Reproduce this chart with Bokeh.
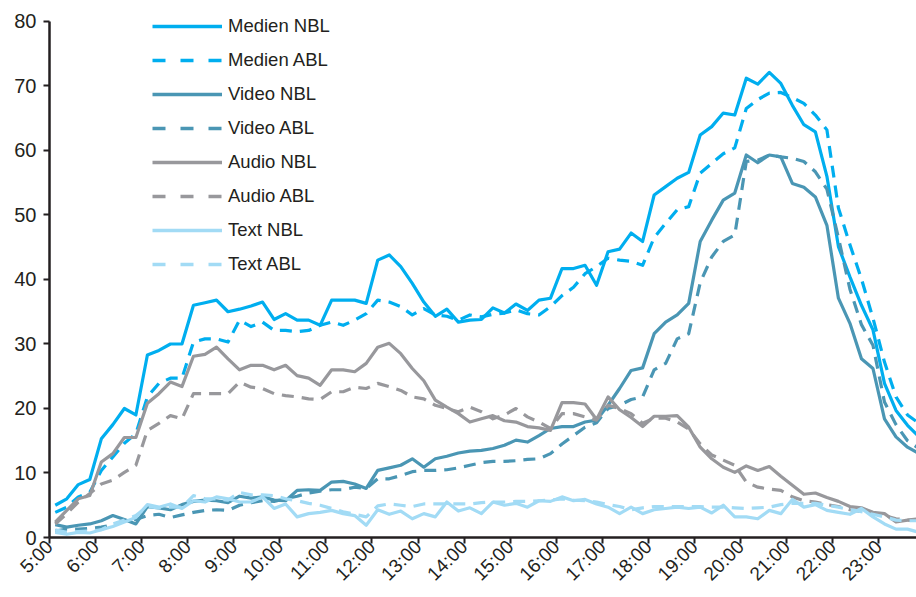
from math import pi
from bokeh.plotting import figure
from bokeh.models import FixedTicker, Legend, LegendItem, Range1d
from bokeh.embed import file_html
from bokeh.resources import INLINE

# ---------------- data ----------------
hours = list(range(5, 24))
hour_labels = {h: f"{h}:00" for h in hours}
# quarter-hour slots, plotted at the middle of each 15-minute interval (5:00-5:15 ... 23:45-24:00)
slot_starts = [f"{5 + q // 4}:{(q % 4) * 15:02d}" for q in range(76)]
slot_x = [int(s.split(":")[0]) + int(s.split(":")[1]) / 60 + 0.125 for s in slot_starts]

medien_nbl = [5.0, 6.0, 8.2, 9.0, 15.3, 17.5, 20.0, 19.0, 28.3, 29.0, 30.0, 30.0,
              36.0, 36.4, 36.8, 35.0, 35.4, 35.9, 36.5, 33.8, 34.7, 33.7, 33.7, 32.9,
              36.8, 36.8, 36.8, 36.3, 43.0, 43.8, 42.0, 39.4, 36.5, 34.3, 35.4, 33.4,
              33.7, 33.8, 35.6, 34.8, 36.2, 35.2, 36.8, 37.1, 41.7, 41.7, 42.2, 39.1,
              44.3, 44.7, 47.2, 45.9, 53.1, 54.4, 55.7, 56.6, 62.4, 63.7, 65.8, 65.5,
              71.2, 70.3, 72.1, 70.4, 67.0, 64.0, 62.9, 56.0, 45.1, 40.4, 36.0, 32.2,
              23.9, 19.7, 17.4, 15.6]
medien_abl = [3.9, 4.7, 6.3, 7.0, 10.4, 12.5, 14.6, 16.1, 21.8, 23.9, 24.7, 24.7,
              30.3, 30.8, 30.8, 30.3, 33.7, 32.7, 33.4, 32.1, 32.1, 31.9, 32.1, 32.9,
              33.4, 32.9, 33.7, 34.7, 36.8, 36.5, 35.8, 34.5, 35.5, 34.5, 34.3, 33.7,
              34.5, 34.2, 34.6, 34.8, 35.3, 34.7, 34.5, 35.8, 37.5, 38.8, 40.9, 42.0,
              43.3, 43.0, 42.8, 42.2, 46.5, 48.7, 50.8, 51.3, 56.5, 58.0, 59.5, 60.4,
              66.5, 67.9, 68.9, 69.0, 68.2, 67.3, 65.5, 63.2, 51.1, 45.4, 40.1, 34.0,
              27.2, 21.8, 19.0, 17.7]
video_nbl = [2.0, 1.6, 1.9, 2.1, 2.6, 3.4, 2.8, 2.1, 4.8, 4.6, 4.3, 5.1,
             5.6, 5.8, 5.7, 5.4, 6.4, 6.1, 6.3, 5.8, 5.7, 7.3, 7.4, 7.3,
             8.6, 8.7, 8.3, 7.6, 10.4, 10.8, 11.2, 12.2, 10.9, 12.2, 12.6, 13.1,
             13.4, 13.5, 13.8, 14.3, 15.1, 14.8, 15.8, 16.9, 17.2, 17.2, 17.9, 18.2,
             20.5, 23.1, 25.9, 26.3, 31.6, 33.4, 34.5, 36.3, 45.9, 49.2, 52.3, 53.4,
             59.3, 58.1, 59.3, 59.0, 54.9, 54.3, 52.8, 48.4, 37.1, 33.2, 27.7, 26.2,
             18.4, 15.6, 14.0, 13.0]
video_abl = [1.0, 1.3, 1.3, 1.4, 1.6, 2.0, 2.6, 2.8, 3.4, 3.6, 3.1, 3.5,
             3.9, 4.2, 4.3, 4.2, 5.0, 5.4, 5.7, 5.6, 6.0, 6.4, 6.9, 7.2,
             7.4, 7.4, 7.8, 7.6, 9.1, 9.1, 9.6, 10.2, 10.4, 10.4, 10.5, 10.8,
             11.2, 11.6, 11.8, 11.8, 11.9, 12.1, 12.2, 13.0, 14.5, 15.8, 17.1, 17.8,
             20.0, 20.5, 21.4, 21.8, 26.0, 27.0, 30.8, 31.6, 39.5, 43.5, 45.9, 46.9,
             58.3, 58.5, 59.3, 59.0, 58.8, 58.3, 56.7, 54.0, 46.5, 38.5, 33.0, 29.8,
             21.0, 17.5, 15.0, 13.8]
audio_nbl = [2.4, 4.2, 6.0, 6.5, 11.7, 13.0, 15.5, 15.5, 20.8, 22.3, 24.1, 23.4,
             28.1, 28.4, 29.5, 27.7, 26.0, 26.7, 26.7, 26.0, 26.7, 25.1, 24.7, 23.6,
             26.0, 26.0, 25.7, 27.0, 29.5, 30.1, 28.5, 26.2, 24.3, 21.3, 20.2, 19.2,
             17.9, 18.4, 18.9, 18.1, 17.9, 17.2, 17.0, 16.6, 20.9, 20.9, 20.7, 18.3,
             21.8, 19.8, 18.6, 17.2, 18.8, 18.8, 18.9, 17.1, 14.0, 12.2, 10.9, 10.1,
             11.1, 10.4, 11.0, 9.5, 8.1, 6.7, 6.9, 6.2, 5.6, 4.8, 4.6, 3.9,
             3.7, 2.4, 2.7, 2.7]
audio_abl = [2.1, 3.7, 5.5, 6.8, 8.3, 8.9, 10.1, 11.2, 16.6, 17.7, 18.9, 18.4,
             22.3, 22.3, 22.3, 22.3, 24.1, 23.3, 23.1, 22.3, 22.0, 21.8, 21.5, 21.4,
             22.6, 22.6, 23.3, 23.1, 23.9, 23.4, 22.8, 21.8, 21.5, 20.5, 20.0, 19.5,
             20.2, 19.5, 18.4, 19.0, 20.0, 18.7, 17.9, 16.9, 19.2, 19.2, 18.7, 18.2,
             20.5, 20.0, 19.2, 17.7, 18.5, 18.5, 17.9, 16.8, 14.5, 12.8, 12.0, 11.2,
             8.6, 7.8, 7.5, 7.3, 6.3, 5.7, 5.5, 5.1, 4.8, 4.3, 4.0, 3.8,
             3.4, 2.9, 2.7, 2.9]
text_nbl = [0.8, 0.5, 0.8, 0.7, 1.2, 1.7, 2.4, 3.1, 5.1, 4.7, 5.2, 4.5,
            5.7, 5.5, 6.3, 6.0, 5.5, 5.5, 6.3, 4.5, 5.2, 3.2, 3.7, 3.9,
            4.2, 3.7, 3.4, 1.9, 4.3, 3.6, 4.1, 2.9, 3.7, 3.2, 5.5, 4.1,
            4.6, 3.7, 5.5, 5.0, 5.3, 4.7, 5.7, 5.6, 6.3, 5.7, 5.9, 5.2,
            4.7, 3.7, 4.7, 3.7, 4.3, 4.5, 4.7, 4.5, 4.7, 3.8, 5.0, 3.2,
            3.2, 2.9, 4.2, 3.7, 5.9, 4.7, 5.1, 4.2, 3.9, 3.6, 4.5, 3.2,
            2.1, 1.3, 1.3, 0.8]
text_abl = [1.2, 0.8, 0.9, 1.0, 1.2, 2.1, 2.7, 3.4, 4.8, 4.6, 4.7, 4.7,
            6.5, 6.0, 6.0, 5.8, 7.0, 6.6, 6.6, 6.5, 6.0, 5.7, 5.3, 5.0,
            4.5, 4.0, 3.6, 3.2, 4.9, 5.2, 5.0, 4.8, 5.2, 5.2, 5.2, 5.2,
            5.2, 5.4, 5.5, 5.5, 5.6, 5.6, 5.7, 5.8, 6.0, 5.8, 5.7, 5.5,
            5.1, 4.8, 4.3, 4.6, 4.8, 4.8, 4.8, 4.8, 4.8, 4.7, 4.7, 4.6,
            4.5, 4.6, 4.7, 5.1, 5.3, 5.3, 5.3, 5.0, 4.7, 4.3, 4.0, 3.6,
            3.2, 2.7, 2.6, 2.6]

series = [
    ("Medien NBL", medien_nbl, "#00AEEF", "solid"),
    ("Medien ABL", medien_abl, "#00AEEF", "dashed"),
    ("Video NBL", video_nbl, "#4A96B4", "solid"),
    ("Video ABL", video_abl, "#4A96B4", "dashed"),
    ("Audio NBL", audio_nbl, "#98989C", "solid"),
    ("Audio ABL", audio_abl, "#98989C", "dashed"),
    ("Text NBL", text_nbl, "#A2DBF5", "solid"),
    ("Text ABL", text_abl, "#A2DBF5", "dashed"),
]

FONT = "Liberation Sans"
INK = "#231F20"

# y range reaches a little above 80 so the legend is not clipped; the axis line stops at 80
p = figure(width=916, height=597, output_backend="svg", toolbar_location=None,
           x_range=Range1d(5, 23.82), y_range=Range1d(0, 81.55),
           min_border_left=49, min_border_right=0, min_border_top=11, min_border_bottom=60)
p.outline_line_color = None
p.xgrid.grid_line_color = None
p.ygrid.grid_line_color = None
p.background_fill_color = "white"
p.border_fill_color = "white"

items = []
for name, vals, color, dash in series:
    plot_dash = "12 8" if dash == "dashed" else "solid"
    p.line(slot_x, vals, line_color=color, line_width=3.2, line_dash=plot_dash,
           line_join="round")
    # legend-only renderer (a single point far outside the visible range draws nothing)
    dummy = p.line(x=[0], y=[-100], line_color=color, line_width=3.5,
                   line_dash=("13 15" if dash == "dashed" else "solid"))
    items.append(LegendItem(label=name, renderers=[dummy]))

legend = Legend(items=items, location=(103, 261), glyph_width=70, glyph_height=24,
                label_height=24, spacing=10, padding=0, margin=0,
                border_line_alpha=0, background_fill_alpha=0,
                label_text_font=FONT, label_text_font_size="18.5px",
                label_text_color=INK, label_standoff=6)
p.add_layout(legend)

for ax in (p.xaxis[0], p.yaxis[0]):
    ax.axis_line_color = INK
    ax.axis_line_width = 2.5
    ax.major_tick_line_color = INK
    ax.major_tick_line_width = 2
    ax.major_tick_in = 0
    ax.major_tick_out = 6
    ax.minor_tick_line_color = None
    ax.major_label_text_font = FONT
    ax.major_label_text_color = INK

p.yaxis[0].ticker = FixedTicker(ticks=[0, 10, 20, 30, 40, 50, 60, 70, 80])
p.yaxis[0].bounds = (0, 80)
p.yaxis[0].major_label_standoff = 7
p.yaxis[0].major_label_text_font_size = "20px"
p.xaxis[0].ticker = FixedTicker(ticks=hours)
p.xaxis[0].major_label_overrides = hour_labels
p.xaxis[0].major_label_orientation = pi / 4
p.xaxis[0].major_label_standoff = 0
p.xaxis[0].major_label_text_font_size = "19px"

open("out.html", "w").write(file_html(p, INLINE))
